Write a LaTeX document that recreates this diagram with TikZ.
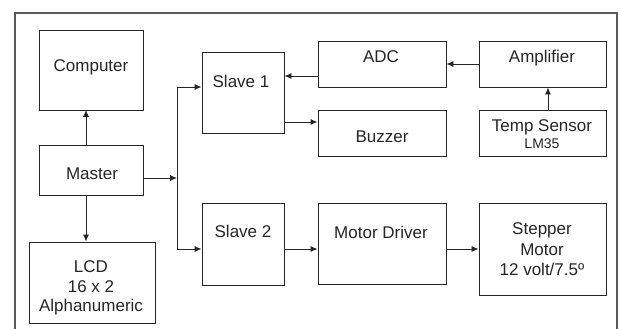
\documentclass[tikz,border=0pt]{standalone}
\usepackage{fontspec}
\setmainfont{Liberation Sans}
\usetikzlibrary{arrows.meta}
\begin{document}
\begin{tikzpicture}[x=1pt,y=-1pt,
  box/.style={draw=black!85,line width=0.9pt,inner sep=0pt,fill=white},
  txt/.style={anchor=base,inner sep=0pt,text=black!85,font=\fontsize{17}{20}\selectfont},
  small/.style={anchor=base,inner sep=0pt,text=black!85,font=\fontsize{14}{16}\selectfont},
  conn/.style={draw=black!85,line width=0.9pt,-{Latex[length=7pt,width=6pt]}},
  wire/.style={draw=black!85,line width=0.9pt}]
\useasboundingbox (0,0) rectangle (621,329);
\fill[white] (0,0) rectangle (621,329);
\draw[black!65,line width=1.3pt] (15,340) -- (15,13) -- (617,13) -- (617,340);
% boxes
\node[box,minimum width=104pt,minimum height=80pt] (computer) at (91,70) {};
\node[box,minimum width=104pt,minimum height=50pt] (master) at (91,170) {};
\node[box,minimum width=126pt,minimum height=81pt] (lcd) at (92,282.5) {};
\node[box,minimum width=82pt,minimum height=81pt] (slave1) at (243,92.5) {};
\node[box,minimum width=82pt,minimum height=82pt] (slave2) at (243,244) {};
\node[box,minimum width=128pt,minimum height=46pt] (adc) at (382,64) {};
\node[box,minimum width=128pt,minimum height=46pt] (buzzer) at (382,133) {};
\node[box,minimum width=127pt,minimum height=46pt] (amp) at (542.5,64) {};
\node[box,minimum width=127pt,minimum height=46pt] (temp) at (542.5,133) {};
\node[box,minimum width=128pt,minimum height=81pt] (motor) at (382,243.5) {};
\node[box,minimum width=127pt,minimum height=92pt] (stepper) at (542.5,249) {};
% texts
\node[txt] (tcomputer) at (91,72) {Computer};
\node[txt] (tmaster) at (92,179) {Master};
\node[txt] (tlcd1) at (91,272) {LCD};
\node[txt] (tlcd2) at (91,292) {16 x 2};
\node[txt] (tlcd3) at (91,311) {Alphanumeric};
\node[txt] (tslave1) at (241,87) {Slave 1};
\node[txt] (tslave2) at (243,237) {Slave 2};
\node[txt] (tadc) at (381,63) {ADC};
\node[txt] (tamp) at (542,63) {Amplifier};
\node[txt] (tbuzzer) at (382,142) {Buzzer};
\node[txt] (ttemp) at (542,131) {Temp Sensor};
\node[small] (tlm) at (542,148) {LM35};
\node[txt] (tmotor) at (381,238) {Motor Driver};
\node[txt] (tstep1) at (542,234) {Stepper};
\node[txt] (tstep2) at (542,255) {Motor};
\node[txt] (tstep3) at (542,275) {12 volt/7.5º};
% connectors
\coordinate (bus) at (177,178);
\coordinate (bustop) at (177,87);
\coordinate (busbot) at (177,249);
\draw[conn] (86,145) -- (86,110);
\draw[conn] (master.south -| 86,0) -- (lcd.north -| 86,0);
\draw[conn] (master.east |- bus) -- (bus);
\draw[wire] (bustop) -- (busbot);
\draw[conn] (bustop) -- (slave1.west |- bustop);
\draw[conn] (busbot) -- (slave2.west |- busbot);
\draw[conn] (adc.west |- 0,76) -- (slave1.east |- 0,76);
\draw[conn] (slave1.east |- 0,122) -- (buzzer.west |- 0,122);
\draw[conn] (amp.west) -- (adc.east);
\draw[conn] (temp.north -| 548,0) -- (amp.south -| 548,0);
\draw[conn] (slave2.east |- busbot) -- (motor.west |- busbot);
\draw[conn] (motor.east |- busbot) -- (stepper.west |- busbot);
\end{tikzpicture}
\end{document}
